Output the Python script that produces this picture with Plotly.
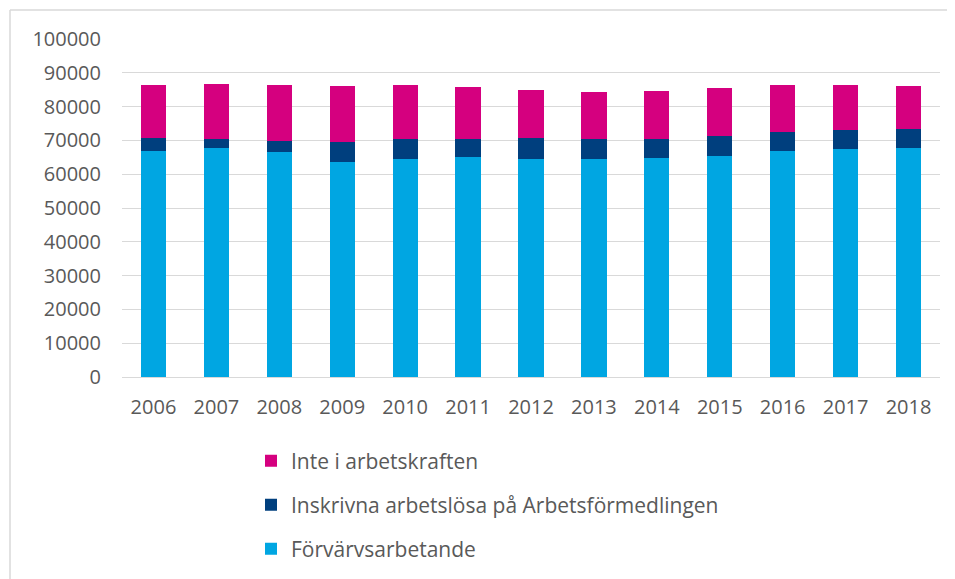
import plotly.graph_objects as go

years = ["2006", "2007", "2008", "2009", "2010", "2011", "2012",
         "2013", "2014", "2015", "2016", "2017", "2018"]
forvarvsarbetande = [66950, 67660, 66570, 63700, 64590, 65180, 64590,
                     64590, 64880, 65380, 66950, 67550, 67840]
inskrivna = [3670, 2740, 3330, 5740, 5730, 5320, 6030,
             5910, 5620, 6020, 5630, 5530, 5440]
inte_i_arbetskraften = [15780, 16200, 16400, 16660, 15980, 15200, 14180,
                        13800, 14100, 14200, 13820, 13220, 12920]
yticks = [0, 10000, 20000, 30000, 40000, 50000, 60000, 70000, 80000, 90000, 100000]

# page body has an 8px default margin; layout coordinates below compensate
OFF = 8
W, H = 955, 579
L, R, T, B = 122 - OFF, 15 + OFF, 39 - OFF, 202 + OFF
FONT = "Open Sans"
GRAY = "#595959"

fig = go.Figure()
fig.add_trace(go.Bar(x=years, y=forvarvsarbetande, name="Förvärvsarbetande",
                     marker=dict(color="#00A6E2", line=dict(width=0)), legend="legend3"))
fig.add_trace(go.Bar(x=years, y=inskrivna, name="Inskrivna arbetslösa på Arbetsförmedlingen",
                     marker=dict(color="#003F7E", line=dict(width=0)), legend="legend2"))
fig.add_trace(go.Bar(x=years, y=inte_i_arbetskraften, name="Inte i arbetskraften",
                     marker=dict(color="#D5007F", line=dict(width=0)), legend="legend"))

pw = W - L - R
ph = H - T - B
def px(x):
    return (x - OFF - L) / pw
def py(y):
    return (H - B - (y - OFF)) / ph

leg_common = dict(xref="container", yref="container", x=243 / W, xanchor="left",
                  yanchor="middle", font=dict(family=FONT, size=21, color=GRAY),
                  bgcolor="rgba(0,0,0,0)")
fig.update_layout(
    width=W, height=H,
    margin=dict(l=L, r=R, t=T, b=B, autoexpand=False),
    paper_bgcolor="white", plot_bgcolor="white",
    barmode="stack", bargap=0.6,
    font=dict(family=FONT, size=21, color=GRAY),
    showlegend=True,
    legend=dict(y=1 - (461 - OFF) / H, **leg_common),
    legend2=dict(y=1 - (505 - OFF) / H, **leg_common),
    legend3=dict(y=1 - (549 - OFF) / H, **leg_common),
    xaxis=dict(showgrid=False, showline=False, ticks="", ticklabelstandoff=16,
               tickangle=0,
               tickfont=dict(family=FONT, size=20, color=GRAY)),
    yaxis=dict(range=[0, 100000], tickvals=yticks, ticktext=[str(v) for v in yticks],
               showgrid=True, gridcolor="#D9D9D9", gridwidth=1,
               zeroline=True, zerolinecolor="#D9D9D9", zerolinewidth=1,
               showline=False, ticks="", ticklabelstandoff=20,
               tickfont=dict(family=FONT, size=20, color=GRAY)),
    shapes=[
        dict(type="line", xref="paper", yref="paper", x0=px(10), x1=px(W + OFF), y0=py(10), y1=py(10),
             line=dict(color="#D9D9D9", width=1.5)),
        dict(type="line", xref="paper", yref="paper", x0=px(10), x1=px(10), y0=py(10), y1=py(H + OFF),
             line=dict(color="#D9D9D9", width=1.5)),
    ],
)

fig.write_html("out.html")
